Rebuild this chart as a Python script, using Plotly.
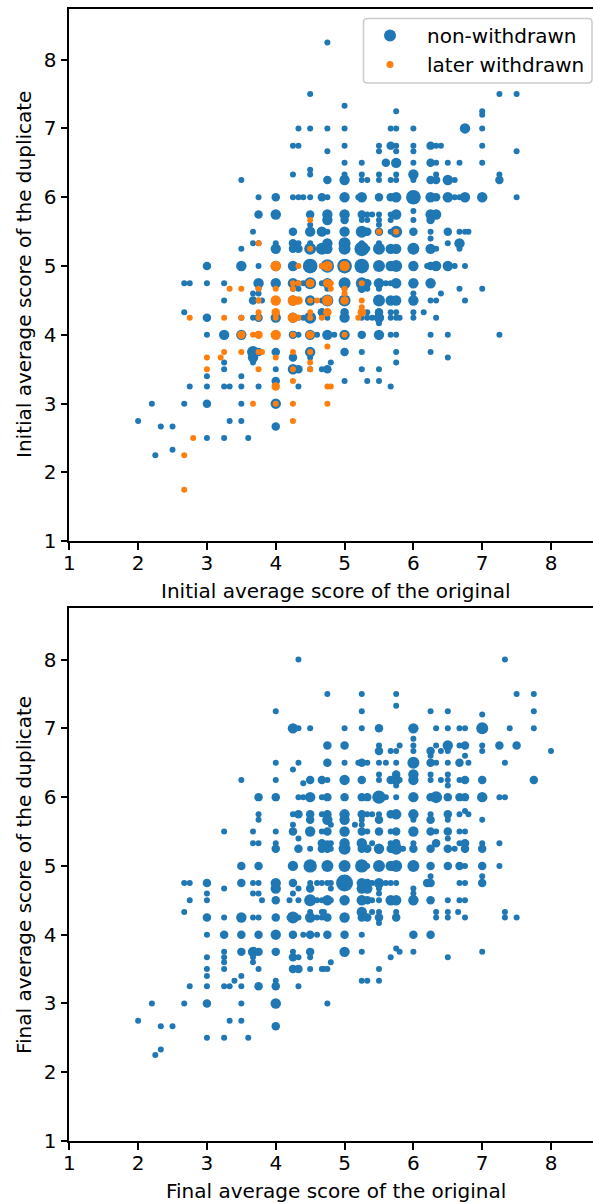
import plotly.graph_objects as go

# Rows: duplicate score -> original scores; an entry is x, or (x, count) when several submissions coincide.
top_blue_rows = {
 8.25:[4.75], 7.5:[4.5,7.25,7.5], 7.33:[5], 7.25:[5.75,7], 7.2:[7],
 7.0:[4.33,4.5,4.75,5,5.67,5.75,6,(6.75,3),7],
 6.75:[4.25,4.33,5,5.5,(5.67,2),5.75,6,(6.25,2),6.33,6.4,7],
 6.67:[4.75,5.5,5.75,6,7.5],
 6.5:[5,5.25,(5.6,2),(5.75,3),6,(6.25,2),6.33,6.5,6.67,7],
 6.4:[4.5],
 6.33:[4.25,4.5,5,5.25,5.5,5.75,(6,3),6.33,7.25],
 6.25:[3.5,(4.75,2),(5,3),5.25,5.33,5.5,5.67,5.75,6,(6.25,2),(6.33,2),(6.5,3),6.6,(7.25,2)],
 6.0:[3.75,(4,2),4.25,4.33,4.4,4.5,(4.67,2),4.75,(5,3),5.2,(5.25,3),(5.5,2),(5.67,2),(5.75,3),(6,6),(6.25,3),(6.33,2),(6.5,3),6.6,6.67,(6.75,3),(7,3),7.5],
 5.8:[6],
 5.75:[(3.75,2),(4,3),(4.5,2),(4.75,3),(5,3),(5.25,2),5.33,5.4,5.5,5.67,(5.75,3),(6.25,3),(6.33,3)],
 5.67:[(4.75,3),(5,2),5.25,5.33,5.5,5.67,6,(6.25,2)],
 5.6:[4.5,5.5],
 5.5:[3.67,(4.25,2),(4.5,3),(4.67,3),4.75,(5,3),(5.25,4),(5.33,2),(5.5,2),5.67,(5.75,4),(6,2),6.25,(6.5,2),6.67,6.75,6.8],
 5.4:[6.25],
 5.33:[3.67,3.75,4,(4.25,2),4.33,4.5,(4.75,3),(5,4),5.25,5.5,6.5,(6.67,3)],
 5.25:[3.5,(4,3),(4.25,2),(4.33,2),(4.5,4),(4.67,4),(4.75,3),(5,4),(5.25,6),5.33,(5.5,4),(5.67,3),(5.75,3),(6,4),(6.25,3),6.33,6.67],
 5.0:[(3,2),(3.5,3),3.75,(4,3),(4.25,3),(4.5,6),4.67,(4.75,5),(5,6),(5.25,6),(5.5,4),(5.67,3),(5.75,4),(6,3),6.2,(6.25,2),(6.33,3),(6.5,3),6.6,6.75],
 4.75:[2.67,2.75,3,3.25,(3.75,3),(4,3),(4.25,3),4.33,4.4,(4.5,4),4.67,(4.75,3),(5,4),(5.25,4),(5.33,2),(5.5,3),5.6,5.67,(5.75,3),(6,3),(6.25,3)],
 4.67:[3.75,4.25,4.33,4.75,5,(5.25,2),5.33,5.5,6.67,7],
 4.6:[3.67,3.75,6,6.4],
 4.5:[3.25,(3.67,2),3.75,3.8,(4,2),(4.25,3),(4.5,3),4.67,(4.75,4),(5,4),(5.5,4),(5.67,3),(5.75,3),(6,3),6.25,6.33,6.75],
 4.33:[2.67,(4.67,2),(5,2),5.33,(5.5,2),5.67,5.75,6,6.15],
 4.25:[(3,2),3.5,3.67,(3.75,2),(4,3),(4.25,3),4.33,4.4,(4.5,4),4.75,(5,3),5.25,5.33,5.4,(5.5,3),5.67,5.75,5.8,6,6.33],
 4.17:[5.5],
 4.0:[3,(3.25,3),(3.5,3),(4.25,2),4.33,(4.5,3),4.6,(4.75,3),4.85,(5,3),(5.25,2),(5.5,3),5.67,5.75,6.25,6.5,7.25],
 3.75:[(3.67,4),(3.75,2),(4,2),(4.5,3),(5,2),5.25,5.75,6.25],
 3.67:[(3.67,3),(4.25,2),4.5,6.5],
 3.6:[3.25,3.67,4.8,5.75],
 3.5:[3.25,4,(4.25,3),(4.33,2),4.5,4.67,(4.75,2),5.25,5.5],
 3.4:[3,3.5],
 3.33:[(4,2),5,5.33,5.5],
 3.25:[2.75,3,3.25,3.33,3.5,3.75,4.33,5.67],
 3.0:[2.2,2.67,(3,2),3.5,(4,3)],
 2.75:[2,3.33,3.5],
 2.67:[2.33,2.5,(4,2)],
 2.5:[3,3.25,3.6],
 2.33:[2.5],
 2.25:[2.25],
}
top_orange_rows = {
 5.67:[4.5], 5.5:[5.5,5.75], 5.33:[3.75], 5.25:[4.5],
 5.0:[(4,3),4.33,4.67,(4.75,3),(5,3)],
 4.75:[4.25,4.33,(4.5,2),(4.75,2),4.8,5.25],
 4.67:[3.33,3.5,3.75,4,4.25,4.8,5],
 4.6:[5],
 4.5:[3.75,(4,3),(4.25,3),(4.33,2),4.5,4.6,(4.75,3),(5,2),5.25],
 4.4:[5.25],
 4.33:[3.75,(4,2),4.5,(4.75,2),(5.25,2)],
 4.25:[2.75,3.25,3.5,3.75,4,(4.25,3),4.33,4.5,4.67,5.2],
 4.0:[(3.5,2),3.67,(3.75,2),(4,3),4.25,(4.5,2),5],
 3.83:[4.75],
 3.75:[3.25,3.5,3.75,3.8,4.25,4.5],
 3.67:[3,3.2,4],
 3.6:[4.5],
 3.5:[3,3.75,4.25,4.5],
 3.33:[4.25],
 3.25:[(4,2),4.75,4.8],
 3.0:[3.67,4,4.25,4.75],
 2.75:[4.25], 2.5:[2.8], 2.25:[2.67], 1.75:[2.67],
}
bottom_blue_rows = {
 8.0:[4.33,7.33],
 7.5:[4.75,5.25,5.75,7.5,7.75],
 7.33:[5.75],
 7.25:[4,5.25,6.25,6.5,7.75],
 7.2:[7],
 7.0:[(4.25,3),4.33,4.5,5,5.25,(5.5,2),(6,3),6.33,6.5,6.67,6.75,(7,4),7.4,7.75],
 6.85:[6],
 6.75:[(4.75,2),(5,2),5.5,5.8,6,6.33,(6.5,3),6.67,(6.75,2),7,(7.25,2),(7.5,2)],
 6.67:[(5.5,2),5.67,5.75,6,(6.25,2),6.4,6.5,7,8],
 6.6:[6.25,6.75],
 6.5:[4,4.33,(4.75,2),5,5.2,(5.25,2),5.33,5.5,5.6,5.75,(6,4),(6.25,2),6.33,6.5,(6.67,2),6.8,7.33],
 6.4:[4.25],
 6.33:[5.5,(5.75,2),(6,3),6.25,6.5],
 6.25:[3.5,4,(4.5,2),(4.67,2),4.75,(5,3),(5.25,2),5.5,(5.67,2),(5.75,3),5.8,(6,3),6.25,6.4,6.5,6.67,(6.75,2),(7,2),(7.75,2)],
 6.2:[4.4],
 6.17:[5.75,6.5],
 6.0:[(3.75,2),(4,2),4.33,4.4,(4.5,3),4.67,(4.75,2),(5,2),(5.25,2),(5.33,2),(5.5,5),5.6,5.75,(6,3),(6.25,2),(6.33,4),(6.5,2),(6.67,2),(6.75,2),(7,3),7.25,7.33],
 5.8:[6.75],
 5.75:[3.75,4.25,(4.33,2),(4.5,2),4.67,(4.75,2),(5,3),(5.25,2),5.33,5.4,5.5,(5.67,2),(5.75,3),(6,3),6.25,(6.5,2),6.67,6.8],
 5.67:[3.75,(4.5,2),(4.75,3),(5,3),5.25,(5.5,2),6,(6.25,2),6.5,7],
 5.6:[4.25,4.8,5.15,5.25],
 5.5:[3.25,3.67,4,(4.25,2),(4.5,3),4.67,(4.75,2),(5,3),(5.25,2),5.33,(5.5,2),5.67,(5.75,2),(6,3),(6.25,2),6.33,(6.5,2),6.67,6.75],
 5.4:[4.33,6.5],
 5.33:[3.67,3.75,4,(4.67,2),4.75,4.8,(5,3),(5.25,3),5.4,5.67,(5.75,2),6,(6.33,2),6.67,(6.75,2),7,7.25],
 5.25:[(4,2),(4.33,2),4.5,(4.67,2),(4.75,2),4.8,(5,4),(5.25,2),(5.33,2),(5.5,3),(5.67,2),(5.75,4),5.85,(6,2),(6.25,2),(6.5,2),6.6,(6.75,2),(7,2)],
 5.0:[(3.5,2),(3.75,2),(4.25,3),(4.5,5),(4.75,4),(5,4),(5.25,5),5.33,(5.5,4),(5.67,3),(5.75,4),(6,4),(6.25,2),(6.5,2),(6.67,2),6.75,(7,2),7.25],
 4.85:[6.25,7],
 4.75:[2.67,2.75,(3,2),(3.5,2),3.67,3.75,(4,3),(4.25,2),4.5,4.6,4.67,4.75,4.8,(5,8),(5.25,3),(5.33,2),5.4,(5.5,3),5.6,5.67,5.75,(6.2,2),(6.25,2),6.67,6.75,(7,2)],
 4.67:[3.25,(4,3),4.33,(4.5,2),4.8,(5.25,3),(5.33,3),5.5,6],
 4.6:[3,3.67,3.75,4.25,5.5,6],
 4.5:[2.75,3,3.8,(4,2),4.2,4.33,(4.5,4),4.6,4.67,(4.75,3),4.8,(5,3),(5.25,3),(5.33,2),5.4,5.5,(5.67,3),(5.75,3),(6,3),(6.25,2),6.5,6.67,6.75],
 4.33:[2.67,4.5,4.67,4.7,(5.25,3),5.4,5.5,5.75,6.33,6.5,6.65,7.33],
 4.25:[(3,2),3.25,(3.5,3),3.67,3.75,(4,2),4.2,(4.25,4),4.33,(4.5,3),4.6,4.67,(4.75,2),(5,3),(5.25,2),(5.33,2),(5.5,2),(5.75,2),6.33,6.5,6.75,7.33,7.5],
 4.17:[5.5],
 4.0:[3,(3.25,2),(3.5,2),(3.75,2),(4,3),(4.25,2),4.4,(4.5,2),4.6,(4.75,2),(5,2),5.25,(6,2),(6.25,2)],
 3.8:[5.75],
 3.75:[3.25,(3.5,2),(3.67,3),(3.75,2),(4,2),4.25,(4.5,2),(5,3),5.25,5.8,6,7],
 3.67:[3,3.25,3.67,(4.25,2),4.33,4.5,5.67,6.5],
 3.6:[3.25,3.67,4.8],
 3.5:[3,3.25,3.75,(4.25,2),(4.33,2),4.5,4.67,4.7,4.75,5.5],
 3.4:[3,3.5],
 3.33:[3.4,4,5.25,5.33,5.5],
 3.25:[2.75,3,3.25,3.33,3.5,(3.75,2),(4,2),4.33],
 3.0:[2.2,2.67,(3,2),3.5,(4,3),4.75],
 2.75:[2,3.33,3.5],
 2.67:[2.33,2.5,(4,2)],
 2.5:[3,3.25,3.6],
 2.33:[2.33],
 2.25:[2.25],
}
tick_values = [1, 2, 3, 4, 5, 6, 7, 8]
series_names = ["non-withdrawn", "later withdrawn"]
x_titles = ["Initial average score of the original", "Final average score of the original"]
y_titles = ["Initial average score of the duplicate", "Final average score of the duplicate"]

BLUE, ORANGE = "#1f77b4", "#ff7f0e"
W, H = 593, 1203
FONT = "DejaVu Sans"
FS = 20

def expand(rows):
    xs, ys, ns = [], [], []
    for y, row in rows.items():
        for e in row:
            x, n = e if isinstance(e, tuple) else (e, 1)
            xs.append(x); ys.append(y); ns.append(n)
    return xs, ys, ns

def scatter(rows, color, xa, ya):
    xs, ys, ns = expand(rows)
    return go.Scatter(x=xs, y=ys, mode="markers", xaxis=xa, yaxis=ya, showlegend=False,
                      marker=dict(color=color, opacity=1, size=[6.0 * n ** 0.5 for n in ns], line=dict(width=0)))

fig = go.Figure()
fig.add_trace(scatter(top_blue_rows, BLUE, "x", "y"))
fig.add_trace(scatter(top_orange_rows, ORANGE, "x", "y"))
fig.add_trace(scatter(bottom_blue_rows, BLUE, "x2", "y2"))
for name, color, size in zip(series_names, [BLUE, ORANGE], [12, 7]):
    fig.add_trace(go.Scatter(x=[None], y=[None], mode="markers", name=name, xaxis="x", yaxis="y",
                             marker=dict(color=color, size=size, opacity=1)))

axis_style = dict(tickvals=tick_values, automargin=False, showgrid=False, zeroline=False, showline=True, mirror=True,
                  linecolor="black", linewidth=1.6, ticks="outside", ticklen=7, tickwidth=1.6, tickcolor="black",
                  tickfont=dict(family=FONT, size=FS, color="black"))

def xaxis(anchor):
    return dict(domain=[69.3 / W, 1], range=[1, 8.61], anchor=anchor, ticklabelstandoff=-4, **axis_style)

def yaxis(anchor, top_px, bottom_px, rng):
    return dict(domain=[1 - bottom_px / H, 1 - top_px / H], range=rng, anchor=anchor, **axis_style)

def label(text, x_px, y_px, angle=0):
    return dict(text=text, x=x_px / W, y=1 - y_px / H, xref="paper", yref="paper", showarrow=False,
                textangle=angle, xanchor="center", yanchor="middle",
                font=dict(family=FONT, size=FS, color="black"))

def rounded_box(x0, y0, x1, y1, r):
    fx = lambda p: p / W
    fy = lambda p: 1 - p / H
    return (f"M {fx(x0 + r)} {fy(y0)} L {fx(x1 - r)} {fy(y0)} Q {fx(x1)} {fy(y0)} {fx(x1)} {fy(y0 + r)} "
            f"L {fx(x1)} {fy(y1 - r)} Q {fx(x1)} {fy(y1)} {fx(x1 - r)} {fy(y1)} "
            f"L {fx(x0 + r)} {fy(y1)} Q {fx(x0)} {fy(y1)} {fx(x0)} {fy(y1 - r)} "
            f"L {fx(x0)} {fy(y0 + r)} Q {fx(x0)} {fy(y0)} {fx(x0 + r)} {fy(y0)} Z")

fig.update_layout(
    template="none", width=W, height=H, margin=dict(l=0, r=0, t=0, b=0), autosize=False,
    paper_bgcolor="white", plot_bgcolor="white",
    font=dict(family=FONT, size=FS, color="black"),
    xaxis=xaxis("y"), yaxis=yaxis("x", 8.7, 541.3, [1, 8.74]),
    xaxis2=xaxis("y2"), yaxis2=yaxis("x2", 608, 1141, [1, 8.75]),
    annotations=[label(x_titles[0], 336, 591), label(x_titles[1], 336, 1191),
                 label(y_titles[0], 24, 275, -90), label(y_titles[1], 24, 875, -90)],
    shapes=[dict(type="path", path=rounded_box(363.5, 18.5, 592, 83, 4), xref="paper", yref="paper", layer="above",
                 fillcolor="rgba(255,255,255,0.8)", line=dict(color="#cccccc", width=1.6))],
    legend=dict(x=353 / W, y=1 - 16 / H, xanchor="left", yanchor="top", bgcolor="rgba(0,0,0,0)",
                borderwidth=0, itemsizing="trace", itemwidth=64,
                font=dict(family=FONT, size=FS, color="black")),
)
fig.write_html("out.html", config={"displayModeBar": False},
               post_script="document.body.style.margin='0';document.documentElement.style.margin='0';"
               "var d=document.querySelector('.plotly-graph-div');d.style.width='593px';d.style.height='1203px';")
